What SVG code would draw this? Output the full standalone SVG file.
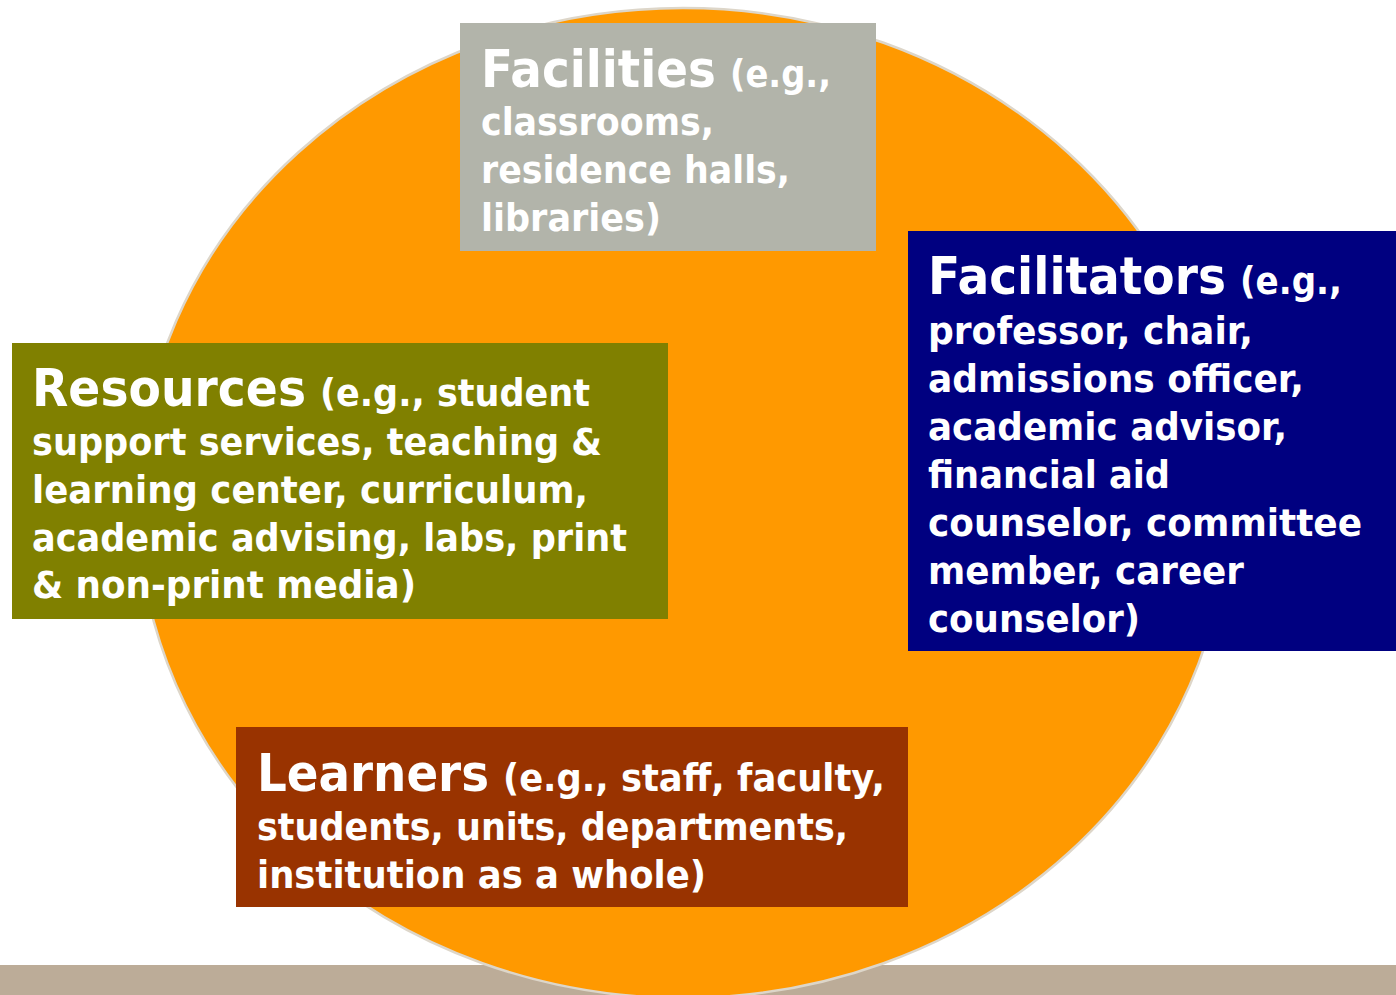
<svg xmlns="http://www.w3.org/2000/svg" width="1396" height="995" viewBox="0 0 1396 995">
<style>
.h{font-family:"DejaVu Sans","Verdana",sans-serif;font-weight:bold;font-size:51px;fill:#ffffff}
.t{font-family:"DejaVu Sans","Verdana",sans-serif;font-weight:bold;font-size:37px;fill:#ffffff}
</style>
<rect x="0" y="0" width="1396" height="995" fill="#ffffff"/>
<rect id="bar" x="0" y="965" width="1396" height="30" fill="#BCAC98"/>
<ellipse id="circle" cx="683" cy="503" rx="545" ry="495" fill="#FF9900" stroke="#DDD6C9" stroke-width="2.5"/>
<g id="connectors"></g>
<g id="facilities">
<rect x="460" y="23" width="416" height="228" fill="#B2B4AA"/>
<text class="h" x="481" y="87" textLength="235" lengthAdjust="spacingAndGlyphs">Facilities</text>
<text class="t" x="730" y="87" textLength="101" lengthAdjust="spacingAndGlyphs">(e.g.,</text>
<text class="t" x="481" y="135" textLength="233" lengthAdjust="spacingAndGlyphs">classrooms,</text>
<text class="t" x="481" y="183" textLength="309" lengthAdjust="spacingAndGlyphs">residence halls,</text>
<text class="t" x="481" y="231" textLength="180" lengthAdjust="spacingAndGlyphs">libraries)</text>
</g>
<g id="resources">
<rect x="12" y="343" width="656" height="276" fill="#808000"/>
<text class="h" x="32" y="406" textLength="274" lengthAdjust="spacingAndGlyphs">Resources</text>
<text class="t" x="320" y="406" textLength="270" lengthAdjust="spacingAndGlyphs">(e.g., student</text>
<text class="t" x="32" y="455" textLength="570" lengthAdjust="spacingAndGlyphs">support services, teaching &amp;</text>
<text class="t" x="32" y="503" textLength="556" lengthAdjust="spacingAndGlyphs">learning center, curriculum,</text>
<text class="t" x="32" y="551" textLength="595" lengthAdjust="spacingAndGlyphs">academic advising, labs, print</text>
<text class="t" x="32" y="598" textLength="384" lengthAdjust="spacingAndGlyphs">&amp; non-print media)</text>
</g>
<g id="facilitators">
<rect x="908" y="231" width="488" height="420" fill="#000080"/>
<text class="h" x="928" y="294" textLength="298" lengthAdjust="spacingAndGlyphs">Facilitators</text>
<text class="t" x="1240" y="294" textLength="102" lengthAdjust="spacingAndGlyphs">(e.g.,</text>
<text class="t" x="928" y="344" textLength="325" lengthAdjust="spacingAndGlyphs">professor, chair,</text>
<text class="t" x="928" y="392" textLength="376" lengthAdjust="spacingAndGlyphs">admissions officer,</text>
<text class="t" x="928" y="440" textLength="359" lengthAdjust="spacingAndGlyphs">academic advisor,</text>
<text class="t" x="928" y="488" textLength="242" lengthAdjust="spacingAndGlyphs">financial aid</text>
<text class="t" x="928" y="536" textLength="434" lengthAdjust="spacingAndGlyphs">counselor, committee</text>
<text class="t" x="928" y="584" textLength="316" lengthAdjust="spacingAndGlyphs">member, career</text>
<text class="t" x="928" y="632" textLength="212" lengthAdjust="spacingAndGlyphs">counselor)</text>
</g>
<g id="learners">
<rect x="236" y="727" width="672" height="180" fill="#993300"/>
<text class="h" x="257" y="791" textLength="232" lengthAdjust="spacingAndGlyphs">Learners</text>
<text class="t" x="503" y="791" textLength="382" lengthAdjust="spacingAndGlyphs">(e.g., staff, faculty,</text>
<text class="t" x="257" y="840" textLength="591" lengthAdjust="spacingAndGlyphs">students, units, departments,</text>
<text class="t" x="257" y="888" textLength="449" lengthAdjust="spacingAndGlyphs">institution as a whole)</text>
</g>
</svg>
